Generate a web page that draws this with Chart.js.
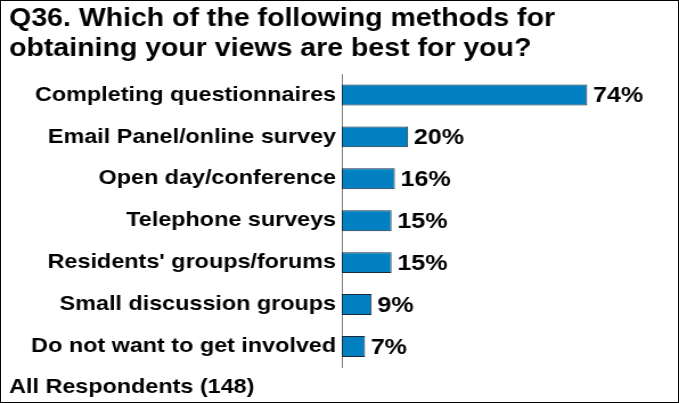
<!DOCTYPE html>
<html>
<head>
<meta charset="utf-8">
<script src="https://cdn.jsdelivr.net/npm/chart.js@4"></script>
<style>
  html, body { margin: 0; padding: 0; background: #fff; }
  #frame {
    position: relative;
    width: 679px;
    height: 403px;
    box-sizing: border-box;
    border: 1px solid #000;
    overflow: hidden;
  }
  /* the chart is drawn a bit narrower and widened, like the printed original */
  #wrap {
    position: absolute;
    left: -1px;
    top: -1px;
    width: 596px;
    height: 403px;
    transform: scaleX(1.1393);
    transform-origin: 0 0;
  }
</style>
</head>
<body>
<div id="frame">
  <div id="wrap"><canvas id="methodsChart"></canvas></div>
</div>
<script>
const titleLines = [
  "Q36. Which of the following methods for",
  "obtaining your views are best for you?"
];
const baseNote = "All Respondents (148)";

const methods = [
  "Completing questionnaires",
  "Email Panel/online survey",
  "Open day/conference",
  "Telephone surveys",
  "Residents' groups/forums",
  "Small discussion groups",
  "Do not want to get involved"
];
const percents = [74, 20, 16, 15, 15, 9, 7];

const FONT = "'Liberation Sans', Arial, sans-serif";

// writes "74%" etc. just past the end of each bar
const valueLabels = {
  id: "valueLabels",
  afterDatasetsDraw(chart) {
    const ctx = chart.ctx;
    const meta = chart.getDatasetMeta(0);
    ctx.save();
    ctx.font = "bold 22px " + FONT;
    ctx.fillStyle = "#000";
    ctx.textAlign = "left";
    ctx.textBaseline = "middle";
    meta.data.forEach((bar, i) => {
      ctx.fillText(percents[i] + "%", bar.x + 5, bar.y + 1);
    });
    ctx.restore();
  }
};

const ctx = document.getElementById("methodsChart").getContext("2d");
new Chart(ctx, {
  type: "bar",
  data: {
    labels: methods,
    datasets: [{
      data: percents,
      backgroundColor: "#0080c0",
      borderColor: "#1a2a38",
      borderWidth: 1,
      borderSkipped: false,
      categoryPercentage: 1,
      barPercentage: 0.5
    }]
  },
  options: {
    indexAxis: "y",
    responsive: true,
    maintainAspectRatio: false,
    animation: false,
    layout: { padding: { left: 8, right: 2, top: 0, bottom: 0 } },
    plugins: {
      legend: { display: false },
      tooltip: { enabled: false },
      title: {
        display: true,
        text: titleLines,
        align: "start",
        color: "#000",
        font: { family: FONT, size: 25, weight: "bold", lineHeight: 1.2 },
        padding: { top: 4, bottom: 10 }
      },
      subtitle: {
        display: true,
        position: "bottom",
        text: baseNote,
        align: "start",
        color: "#000",
        font: { family: FONT, size: 20.5, weight: "bold", lineHeight: 1.2 },
        padding: { top: 8, bottom: 3 }
      }
    },
    scales: {
      x: {
        display: false,
        min: 0,
        max: 101
      },
      y: {
        grid: { display: false, drawTicks: false },
        border: { display: true, color: "#808080", width: 1 },
        ticks: {
          color: "#000",
          padding: 5,
          font: { family: FONT, size: 20.5, weight: "bold" }
        },
        afterFit(scale) { scale.width = 292; }
      }
    }
  },
  plugins: [valueLabels]
});
</script>
</body>
</html>
